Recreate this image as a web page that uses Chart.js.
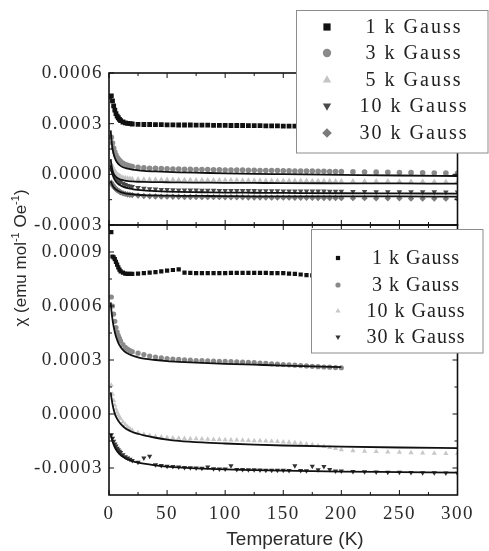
<!DOCTYPE html>
<html>
<head>
<meta charset="utf-8">
<script src="https://cdn.jsdelivr.net/npm/chart.js@4.4.1/dist/chart.umd.min.js"></script>
<style>
  html, body { margin: 0; padding: 0; background: #fff; }
  #wrap { position: relative; width: 489px; height: 551px; }
</style>
</head>
<body>
<div id="wrap"><canvas id="chi"></canvas></div>
<script>
// temperatures (K)
const tLow = [2, 3, 4, 5, 6, 7, 8, 9, 10, 12, 14, 16, 18, 20, 25, 30, 35, 40, 45, 50,
  55, 60, 65, 70, 75, 80, 85, 90, 95, 100, 105, 110, 115, 120, 125, 130, 135, 140, 145, 150,
  155, 160, 165, 170, 175, 180, 185, 190, 195, 200];
const tFull = [...tLow, 210, 220, 230, 240, 250, 260, 270, 280, 290, 300];
const tFit = [1.5, 2, 3, 4, 5, 6, 8, 10, 12, 15, 20, 25, 30, 40, 50, 60, 80, 100, 125, 150, 200, 250, 300];
const tFitShort = [1.5, 2, 3, 4, 5, 6, 8, 10, 12, 15, 20, 25, 30, 40, 50, 60, 80, 100, 125, 150, 200];

// upper panel, chi (emu mol-1 Oe-1) on tFull
const top1k = [4.65e-4, 4.35e-4, 4.05e-4, 3.8e-4, 3.6e-4, 3.45e-4, 3.35e-4, 3.25e-4, 3.18e-4, 3.1e-4,
  3.05e-4, 3.02e-4, 3.0e-4, 2.98e-4, 2.96e-4, 2.95e-4, 2.95e-4, 2.94e-4, 2.94e-4, 2.93e-4,
  2.93e-4, 2.92e-4, 2.92e-4, 2.92e-4, 2.91e-4, 2.91e-4, 2.91e-4, 2.9e-4, 2.9e-4, 2.9e-4,
  2.89e-4, 2.89e-4, 2.89e-4, 2.88e-4, 2.88e-4, 2.88e-4, 2.87e-4, 2.87e-4, 2.87e-4, 2.86e-4,
  2.86e-4, 2.85e-4, 2.85e-4, 2.85e-4, 2.84e-4, 2.84e-4, 2.83e-4, 2.83e-4, 2.83e-4, 2.82e-4,
  2.82e-4, 2.81e-4, 2.81e-4, 2.8e-4, 2.8e-4, 2.79e-4, 2.79e-4, 2.78e-4, 2.78e-4, 2.77e-4];
const top3k = [2.2e-4, 1.85e-4, 1.55e-4, 1.32e-4, 1.14e-4, 1.0e-4, 0.9e-4, 0.82e-4, 0.75e-4, 0.65e-4,
  0.58e-4, 0.53e-4, 0.49e-4, 0.46e-4, 0.41e-4, 0.38e-4, 0.36e-4, 0.35e-4, 0.34e-4, 0.33e-4,
  0.32e-4, 0.31e-4, 0.3e-4, 0.3e-4, 0.29e-4, 0.28e-4, 0.28e-4, 0.27e-4, 0.27e-4, 0.26e-4,
  0.26e-4, 0.25e-4, 0.25e-4, 0.24e-4, 0.24e-4, 0.23e-4, 0.23e-4, 0.22e-4, 0.22e-4, 0.21e-4,
  0.21e-4, 0.2e-4, 0.2e-4, 0.19e-4, 0.19e-4, 0.18e-4, 0.18e-4, 0.17e-4, 0.17e-4, 0.16e-4,
  0.15e-4, 0.14e-4, 0.13e-4, 0.12e-4, 0.11e-4, 0.1e-4, 0.09e-4, 0.08e-4, 0.07e-4, 0.06e-4];
const top5k = [0.6e-4, 0.45e-4, 0.3e-4, 0.18e-4, 0.08e-4, 0.0, -0.06e-4, -0.1e-4, -0.14e-4, -0.19e-4,
  -0.22e-4, -0.24e-4, -0.26e-4, -0.27e-4, -0.29e-4, -0.3e-4, -0.31e-4, -0.31e-4, -0.32e-4, -0.32e-4,
  -0.32e-4, -0.33e-4, -0.33e-4, -0.33e-4, -0.34e-4, -0.34e-4, -0.34e-4, -0.34e-4, -0.35e-4, -0.35e-4,
  -0.35e-4, -0.35e-4, -0.36e-4, -0.36e-4, -0.36e-4, -0.36e-4, -0.37e-4, -0.37e-4, -0.37e-4, -0.37e-4,
  -0.38e-4, -0.38e-4, -0.38e-4, -0.38e-4, -0.39e-4, -0.39e-4, -0.39e-4, -0.39e-4, -0.4e-4, -0.4e-4,
  -0.4e-4, -0.41e-4, -0.41e-4, -0.41e-4, -0.42e-4, -0.42e-4, -0.42e-4, -0.43e-4, -0.43e-4, -0.43e-4];
const top10k = [0.3e-4, 0.15e-4, 0.02e-4, -0.1e-4, -0.2e-4, -0.28e-4, -0.35e-4, -0.41e-4, -0.46e-4, -0.55e-4,
  -0.61e-4, -0.66e-4, -0.7e-4, -0.73e-4, -0.79e-4, -0.83e-4, -0.86e-4, -0.88e-4, -0.9e-4, -0.91e-4,
  -0.92e-4, -0.93e-4, -0.93e-4, -0.94e-4, -0.94e-4, -0.95e-4, -0.95e-4, -0.95e-4, -0.96e-4, -0.96e-4,
  -0.96e-4, -0.97e-4, -0.97e-4, -0.97e-4, -0.97e-4, -0.98e-4, -0.98e-4, -0.98e-4, -0.98e-4, -0.99e-4,
  -0.99e-4, -0.99e-4, -0.99e-4, -1.0e-4, -1.0e-4, -1.0e-4, -1.0e-4, -1.01e-4, -1.01e-4, -1.01e-4,
  -1.02e-4, -1.02e-4, -1.03e-4, -1.03e-4, -1.03e-4, -1.04e-4, -1.04e-4, -1.04e-4, -1.05e-4, -1.05e-4];
const top30k = [-0.5e-4, -0.62e-4, -0.72e-4, -0.8e-4, -0.87e-4, -0.93e-4, -0.98e-4, -1.02e-4, -1.06e-4, -1.12e-4,
  -1.16e-4, -1.19e-4, -1.21e-4, -1.23e-4, -1.26e-4, -1.28e-4, -1.3e-4, -1.31e-4, -1.32e-4, -1.32e-4,
  -1.33e-4, -1.33e-4, -1.34e-4, -1.34e-4, -1.34e-4, -1.35e-4, -1.35e-4, -1.35e-4, -1.35e-4, -1.36e-4,
  -1.36e-4, -1.36e-4, -1.36e-4, -1.37e-4, -1.37e-4, -1.37e-4, -1.37e-4, -1.38e-4, -1.38e-4, -1.38e-4,
  -1.38e-4, -1.39e-4, -1.39e-4, -1.39e-4, -1.39e-4, -1.4e-4, -1.4e-4, -1.4e-4, -1.4e-4, -1.41e-4,
  -1.41e-4, -1.41e-4, -1.42e-4, -1.42e-4, -1.42e-4, -1.43e-4, -1.43e-4, -1.43e-4, -1.44e-4, -1.44e-4];

// upper panel fitted curves on tFit
const fitTop3k = [2.6e-4, 2.1e-4, 1.55e-4, 1.2e-4, 0.98e-4, 0.82e-4, 0.62e-4, 0.5e-4, 0.42e-4, 0.35e-4, 0.28e-4, 0.24e-4,
  0.21e-4, 0.17e-4, 0.14e-4, 0.12e-4, 0.09e-4, 0.06e-4, 0.03e-4, 0.01e-4, -0.03e-4, -0.07e-4, -0.1e-4];
const fitTop5k = [0.9e-4, 0.6e-4, 0.25e-4, 0.05e-4, -0.07e-4, -0.15e-4, -0.25e-4, -0.31e-4, -0.35e-4, -0.39e-4, -0.42e-4, -0.44e-4,
  -0.45e-4, -0.46e-4, -0.47e-4, -0.48e-4, -0.49e-4, -0.5e-4, -0.51e-4, -0.52e-4, -0.53e-4, -0.54e-4, -0.55e-4];
const fitTop10k = [0.55e-4, 0.3e-4, 0.0, -0.2e-4, -0.33e-4, -0.43e-4, -0.57e-4, -0.66e-4, -0.73e-4, -0.8e-4, -0.87e-4, -0.92e-4,
  -0.95e-4, -0.99e-4, -1.02e-4, -1.04e-4, -1.06e-4, -1.08e-4, -1.09e-4, -1.1e-4, -1.12e-4, -1.13e-4, -1.14e-4];
const fitTop30k = [-0.4e-4, -0.5e-4, -0.65e-4, -0.76e-4, -0.84e-4, -0.9e-4, -0.99e-4, -1.05e-4, -1.09e-4, -1.14e-4, -1.18e-4, -1.21e-4,
  -1.23e-4, -1.25e-4, -1.26e-4, -1.27e-4, -1.28e-4, -1.29e-4, -1.3e-4, -1.3e-4, -1.31e-4, -1.31e-4, -1.32e-4];

// lower panel
const bot1k = [10.1e-4, 8.75e-4, 8.7e-4, 8.6e-4, 8.45e-4, 8.3e-4, 8.15e-4, 8.02e-4, 7.93e-4, 7.85e-4,
  7.8e-4, 7.78e-4, 7.78e-4, 7.79e-4, 7.8e-4, 7.82e-4, 7.85e-4, 7.88e-4, 7.92e-4, 7.96e-4,
  8.0e-4, 8.04e-4, 7.86e-4, 7.84e-4, 7.83e-4, 7.83e-4, 7.83e-4, 7.83e-4, 7.83e-4, 7.83e-4,
  7.84e-4, 7.84e-4, 7.84e-4, 7.84e-4, 7.84e-4, 7.84e-4, 7.84e-4, 7.83e-4, 7.83e-4, 7.82e-4,
  7.8e-4, 7.78e-4, 7.75e-4, 7.72e-4, 7.7e-4, 7.68e-4, 7.67e-4, 7.66e-4, 7.66e-4, 7.65e-4];
const bot3k = [6.5e-4, 6.0e-4, 5.55e-4, 5.15e-4, 4.8e-4, 4.55e-4, 4.35e-4, 4.2e-4, 4.05e-4, 3.85e-4,
  3.7e-4, 3.6e-4, 3.52e-4, 3.46e-4, 3.38e-4, 3.3e-4, 3.22e-4, 3.16e-4, 3.12e-4, 3.08e-4,
  3.05e-4, 3.03e-4, 3.01e-4, 2.99e-4, 2.97e-4, 2.96e-4, 2.95e-4, 2.94e-4, 2.93e-4, 2.92e-4,
  2.91e-4, 2.9e-4, 2.88e-4, 2.87e-4, 2.85e-4, 2.83e-4, 2.81e-4, 2.79e-4, 2.77e-4, 2.75e-4,
  2.73e-4, 2.71e-4, 2.69e-4, 2.67e-4, 2.65e-4, 2.63e-4, 2.61e-4, 2.6e-4, 2.58e-4, 2.57e-4];
const bot10k = [1.6e-4, 1.1e-4, 0.75e-4, 0.48e-4, 0.27e-4, 0.1e-4, -0.05e-4, -0.17e-4, -0.27e-4, -0.45e-4,
  -0.6e-4, -0.72e-4, -0.82e-4, -0.9e-4, -1.04e-4, -1.13e-4, -1.2e-4, -1.25e-4, -1.28e-4, -1.31e-4,
  -1.33e-4, -1.35e-4, -1.36e-4, -1.37e-4, -1.38e-4, -1.39e-4, -1.4e-4, -1.41e-4, -1.42e-4, -1.43e-4,
  -1.44e-4, -1.45e-4, -1.46e-4, -1.47e-4, -1.48e-4, -1.49e-4, -1.5e-4, -1.52e-4, -1.53e-4, -1.55e-4,
  -1.57e-4, -1.6e-4, -1.63e-4, -1.67e-4, -1.71e-4, -1.76e-4, -1.81e-4, -1.86e-4, -1.92e-4, -1.98e-4,
  -2.04e-4, -2.07e-4, -2.09e-4, -2.11e-4, -2.13e-4, -2.15e-4, -2.16e-4, -2.18e-4, -2.19e-4, -2.2e-4];
const bot30k = [-1.15e-4, -1.35e-4, -1.52e-4, -1.66e-4, -1.78e-4, -1.9e-4, -1.99e-4, -2.07e-4, -2.14e-4, -2.27e-4,
  -2.37e-4, -2.45e-4, -2.52e-4, -2.58e-4, -2.68e-4, -2.45e-4, -2.35e-4, -2.82e-4, -2.86e-4, -2.9e-4,
  -2.92e-4, -2.95e-4, -2.97e-4, -2.99e-4, -3.0e-4, -3.02e-4, -2.95e-4, -3.04e-4, -3.05e-4, -3.06e-4,
  -2.88e-4, -3.08e-4, -3.09e-4, -3.1e-4, -3.1e-4, -3.11e-4, -3.12e-4, -3.12e-4, -3.13e-4, -3.13e-4,
  -3.14e-4, -2.88e-4, -3.14e-4, -3.15e-4, -2.9e-4, -3.1e-4, -2.92e-4, -3.08e-4, -3.16e-4, -3.17e-4,
  -3.2e-4, -3.21e-4, -3.22e-4, -3.23e-4, -3.24e-4, -3.25e-4, -3.26e-4, -3.27e-4, -3.28e-4, -3.29e-4];

const fitBot3k = [6.2e-4, 5.8e-4, 5.25e-4, 4.85e-4, 4.55e-4, 4.3e-4, 3.95e-4, 3.72e-4, 3.56e-4, 3.4e-4, 3.25e-4,
  3.15e-4, 3.08e-4, 3.0e-4, 2.94e-4, 2.9e-4, 2.84e-4, 2.79e-4, 2.74e-4, 2.69e-4, 2.6e-4];
const fitBot10k = [1.2e-4, 0.95e-4, 0.55e-4, 0.25e-4, 0.02e-4, -0.15e-4, -0.38e-4, -0.55e-4, -0.68e-4, -0.84e-4, -1.0e-4, -1.1e-4,
  -1.19e-4, -1.32e-4, -1.42e-4, -1.49e-4, -1.58e-4, -1.64e-4, -1.7e-4, -1.75e-4, -1.81e-4, -1.86e-4, -1.9e-4];
const fitBot30k = [-1.1e-4, -1.25e-4, -1.5e-4, -1.7e-4, -1.85e-4, -1.97e-4, -2.15e-4, -2.28e-4, -2.38e-4, -2.5e-4, -2.62e-4, -2.7e-4,
  -2.76e-4, -2.85e-4, -2.92e-4, -2.97e-4, -3.03e-4, -3.08e-4, -3.12e-4, -3.15e-4, -3.2e-4, -3.23e-4, -3.26e-4];

// ticks
const xTicks = [0, 50, 100, 150, 200, 250, 300];
const xMinor = [25, 75, 125, 175, 225, 275];
const yTopTicks = [-0.0003, 0, 0.0003, 0.0006];
const yTopMinor = [-0.00015, 0.00015, 0.00045];
const yBotTicks = [-0.0003, 0, 0.0003, 0.0006, 0.0009];
const yBotMinor = [-0.00015, 0.00015, 0.00045, 0.00075];

const xTitle = 'Temperature (K)';
const yTitle = [['\u03c7 (emu mol', 0], ['-1', 1], [' Oe', 0], ['-1', 1], [')', 0]];

function pts(ts, vs) {
  return ts.map((t, i) => ({ x: t, y: vs[i] }));
}
function marks(label, axis, ts, vs, style, r, color, rot) {
  return {
    label: label, panel: axis, yAxisID: axis, data: pts(ts, vs), order: 1,
    showLine: false, pointStyle: style, pointRadius: r, pointRotation: rot || 0,
    pointBackgroundColor: color, pointBorderWidth: 0, backgroundColor: color
  };
}
function fit(axis, ts, vs) {
  return {
    fit: true, yAxisID: axis, data: pts(ts, vs), order: 0, showLine: true,
    borderColor: '#111', borderWidth: 1.8, pointRadius: 0, cubicInterpolationMode: 'monotone'
  };
}

const datasets = [
  marks('1 k Gauss', 'yTop', tFull, top1k, 'rect', 3.4, '#111'),
  marks('3 k Gauss', 'yTop', tFull, top3k, 'circle', 2.8, '#8a8a8a'),
  marks('5 k Gauss', 'yTop', tFull, top5k, 'triangle', 3.2, '#c4c4c4'),
  marks('10 k Gauss', 'yTop', tFull, top10k, 'triangle', 3.2, '#4a4a4a', 180),
  marks('30 k Gauss', 'yTop', tFull, top30k, 'rectRot', 3.2, '#7a7a7a'),
  fit('yTop', tFit, fitTop3k),
  fit('yTop', tFit, fitTop5k),
  fit('yTop', tFit, fitTop10k),
  fit('yTop', tFit, fitTop30k),
  marks('1 k Gauss', 'yBot', tLow, bot1k, 'rect', 3.0, '#111'),
  marks('3 k Gauss', 'yBot', tLow, bot3k, 'circle', 2.6, '#8a8a8a'),
  marks('10 k Gauss', 'yBot', tFull, bot10k, 'triangle', 3.0, '#c8c8c8'),
  marks('30 k Gauss', 'yBot', tFull, bot30k, 'triangle', 3.0, '#333', 180),
  fit('yBot', tFitShort, fitBot3k),
  fit('yBot', tFit, fitBot10k),
  fit('yBot', tFit, fitBot30k)
];

const serif = 'Liberation Serif, Times New Roman, serif';
const sans = 'Liberation Sans, Arial, sans-serif';

function line(ctx, x1, y1, x2, y2) {
  ctx.beginPath(); ctx.moveTo(x1, y1); ctx.lineTo(x2, y2); ctx.stroke();
}

const framePlugin = {
  id: 'frame',
  beforeDraw(chart) {
    chart.ctx.letterSpacing = '1.5px';
  },
  afterDatasetsDraw(chart) {
    const { ctx, chartArea: a, scales } = chart;
    const sx = scales.x;
    const panels = [[scales.yTop, yTopTicks, yTopMinor], [scales.yBot, yBotTicks, yBotMinor]];
    ctx.save();
    ctx.strokeStyle = '#111';
    ctx.lineWidth = 1;
    panels.forEach(([s, major, minor]) => {
      xTicks.concat(xMinor).forEach(v => {
        const px = sx.getPixelForValue(v);
        const len = xTicks.includes(v) ? 5 : 3;
        line(ctx, px, s.top, px, s.top + len);
        line(ctx, px, s.bottom, px, s.bottom - len);
      });
      major.concat(minor).forEach(v => {
        const py = s.getPixelForValue(v);
        const len = major.includes(v) ? 5 : 3;
        line(ctx, a.left, py, a.left + len, py);
        line(ctx, a.right, py, a.right - len, py);
      });
    });
    ctx.lineWidth = 1.6;
    panels.forEach(([s]) => ctx.strokeRect(a.left, s.top, a.right - a.left, s.bottom - s.top));
    ctx.restore();
  },
  afterDraw(chart) {
    const ctx = chart.ctx;
    ctx.save();
    ctx.letterSpacing = '0px';
    ctx.fillStyle = '#2a2a2a';
    ctx.font = '19px ' + sans;
    ctx.textAlign = 'center';
    ctx.textBaseline = 'middle';
    ctx.fillText(xTitle, 295, 540);

    // y title with superscripts
    ctx.translate(20, 258);
    ctx.rotate(-Math.PI / 2);
    ctx.textAlign = 'left';
    ctx.textBaseline = 'alphabetic';
    const big = '17px ' + sans, small = '11px ' + sans;
    let w = 0;
    yTitle.forEach(([t, sup]) => { ctx.font = sup ? small : big; w += ctx.measureText(t).width; });
    let x = -w / 2;
    yTitle.forEach(([t, sup]) => {
      ctx.font = sup ? small : big;
      ctx.fillText(t, x, sup ? -1 : 6);
      x += ctx.measureText(t).width;
    });
    ctx.restore();

    // legends
    const boxes = [
      { axis: 'yTop', x: 296.5, y: 10.5, w: 191.5, h: 142.5, rows: [27, 53, 80, 106, 133], mx: 327, tx: 414, ls: '2px', scale: 1.5 },
      { axis: 'yBot', x: 311.5, y: 229.5, w: 171.5, h: 123.5, rows: [258, 285, 311, 337], mx: 338, tx: 416, ls: '1px', scale: 1.0 }
    ];
    boxes.forEach(b => {
      ctx.save();
      ctx.fillStyle = '#fff';
      ctx.strokeStyle = '#8c8c8c';
      ctx.lineWidth = 1;
      ctx.fillRect(b.x, b.y, b.w, b.h);
      ctx.strokeRect(b.x, b.y, b.w, b.h);
      const items = chart.data.datasets.filter(d => d.panel === b.axis && !d.fit);
      items.forEach((d, i) => {
        ctx.fillStyle = d.pointBackgroundColor;
        Chart.helpers.drawPoint(ctx, {
          pointStyle: d.pointStyle, radius: d.pointRadius * b.scale,
          rotation: d.pointRotation, borderWidth: 0
        }, b.mx, b.rows[i]);
        ctx.fillStyle = '#222';
        ctx.font = '20px ' + serif;
        ctx.letterSpacing = b.ls;
        ctx.textAlign = 'center';
        ctx.textBaseline = 'middle';
        ctx.fillText(d.label, b.tx, b.rows[i] + 1);
      });
      ctx.restore();
    });
  }
};

const tickFont = { family: serif, size: 19 };

new Chart(document.getElementById('chi'), {
  type: 'scatter',
  data: { datasets: datasets },
  options: {
    animation: false,
    responsive: true,
    maintainAspectRatio: false,
    layout: { padding: { left: 0, right: 31.5, top: 73, bottom: 0 } },
    plugins: { legend: { display: false }, tooltip: { enabled: false } },
    scales: {
      x: {
        type: 'linear', position: 'bottom', min: 0, max: 300,
        grid: { display: false, drawTicks: false }, border: { display: false },
        ticks: { font: tickFont, color: '#2a2a2a', padding: 8, callback: v => String(v) },
        afterBuildTicks: s => { s.ticks = xTicks.map(v => ({ value: v })); },
        afterFit: s => { s.height = 56; }
      },
      yTop: {
        type: 'linear', position: 'left', stack: 'panels', stackWeight: 152, weight: 2,
        min: -0.0003, max: 0.0006,
        grid: { display: false, drawTicks: false }, border: { display: false },
        ticks: { font: tickFont, color: '#2a2a2a', padding: 6, callback: v => v.toFixed(4) },
        afterBuildTicks: s => { s.ticks = yTopTicks.map(v => ({ value: v })); },
        afterFit: s => { s.width = 109; }
      },
      yBot: {
        type: 'linear', position: 'left', stack: 'panels', stackWeight: 270, weight: 1,
        min: -0.00045, max: 0.00105,
        grid: { display: false, drawTicks: false }, border: { display: false },
        ticks: { font: tickFont, color: '#2a2a2a', padding: 6, callback: v => v.toFixed(4) },
        afterBuildTicks: s => { s.ticks = yBotTicks.map(v => ({ value: v })); },
        afterFit: s => { s.width = 109; }
      }
    }
  },
  plugins: [framePlugin]
});
</script>
</body>
</html>
